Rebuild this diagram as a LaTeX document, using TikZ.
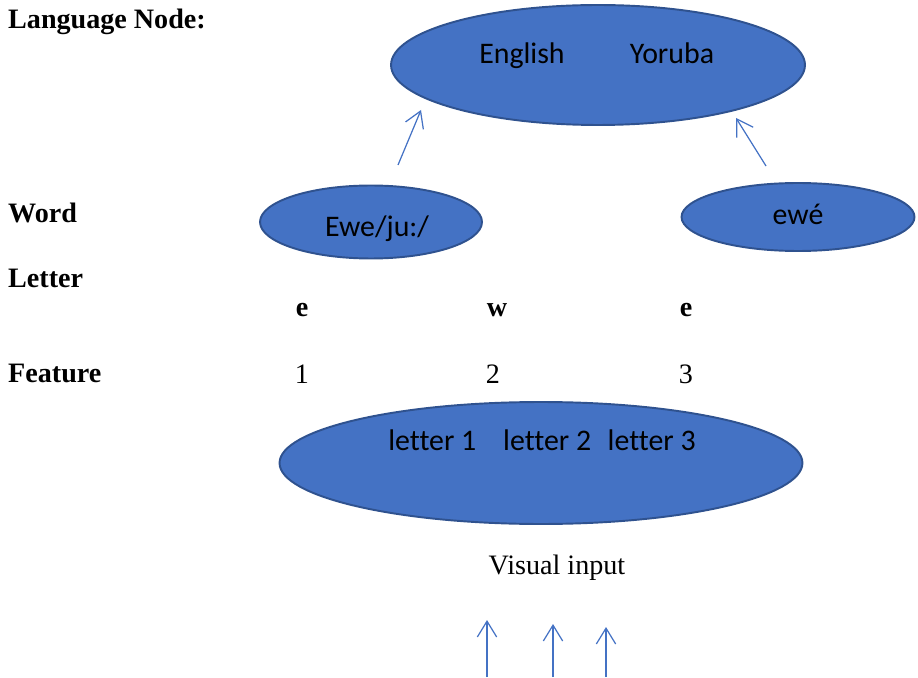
\documentclass[tikz,border=0pt]{standalone}
\usepackage{fontspec}
\setmainfont{Liberation Serif}
\newfontfamily\calibri[Ligatures=CommonOff]{Carlito}
\usetikzlibrary{shapes.geometric,arrows.meta}

\definecolor{blobfill}{HTML}{4472C4}
\definecolor{blobline}{HTML}{2F528F}

\tikzset{
  blob/.style={ellipse, draw=blobline, fill=blobfill, line width=1.1pt, inner sep=0pt},
  inblob/.style={font=\calibri\fontsize{17}{20}\selectfont, text height=11.5pt, text depth=3.5pt},
  side/.style={anchor=west, font=\bfseries\fontsize{16}{19}\selectfont},
  plain/.style={font=\fontsize{16}{19}\selectfont},
  feed/.style={draw=blobfill, line width=0.7pt, -{Straight Barb[length=9pt,width=11pt]}}
}

\begin{document}
\begin{tikzpicture}[x=0.02cm,y=-0.02cm]
  \useasboundingbox (0,0) rectangle (918,678);

  % the three levels of ellipses
  \node[blob, minimum width=8.28cm, minimum height=2.4cm] (lang) at (598,65) {};
  \node[blob, minimum width=4.44cm, minimum height=1.46cm] (ewe) at (371,222) {};
  \node[blob, minimum width=4.66cm, minimum height=1.36cm] (yor) at (798,217) {};
  \node[blob, minimum width=10.46cm, minimum height=2.44cm] (feat) at (541,463) {};

  \node[inblob] (en) at (522,56) {English};
  \node[inblob] (yo) at (672,56) {Yoruba};
  \node[inblob] (eweword) at (377,229) {Ewe/ju:/};
  \node[inblob] (yorword) at (798,217) {ewé};
  \node[inblob] (letters) at (542,443) {letter 1\hspace{0.9em}letter 2\hspace{0.55em}letter 3};

  % row names on the left
  \node[side] (langlbl) at (2,22) {Language Node:};
  \node[side] (wordlbl) at (2,213) {Word};
  \node[side] (letterlbl) at (2,278) {Letter};
  \node[side] (featlbl) at (2,373) {Feature};

  % letters and feature numbers
  \node[plain, font=\bfseries\fontsize{16}{19}\selectfont] (l1) at (302,310) {e};
  \node[plain, font=\bfseries\fontsize{16}{19}\selectfont] (l2) at (497,310) {w};
  \node[plain, font=\bfseries\fontsize{16}{19}\selectfont] (l3) at (686,310) {e};
  \node[plain] (f1) at (302,374) {1};
  \node[plain] (f2) at (493,374) {2};
  \node[plain] (f3) at (686,374) {3};

  \node[plain] (vis) at (557,568) {Visual input};

  % word to language
  \coordinate (ewetail) at (398,165);
  \coordinate (ewehead) at (421,110);
  \coordinate (yortail) at (766,166);
  \coordinate (yorhead) at (736,118);
  \draw[feed] (ewetail) -- (ewehead);
  \draw[feed] (yortail) -- (yorhead);

  % input arrows
  \foreach \x/\t [count=\i] in {487/620,553/624,606/627} {
    \coordinate (in\i) at (\x,677);
    \coordinate (up\i) at (\x,\t);
    \draw[feed] (in\i) -- (up\i);
  }
\end{tikzpicture}
\end{document}
